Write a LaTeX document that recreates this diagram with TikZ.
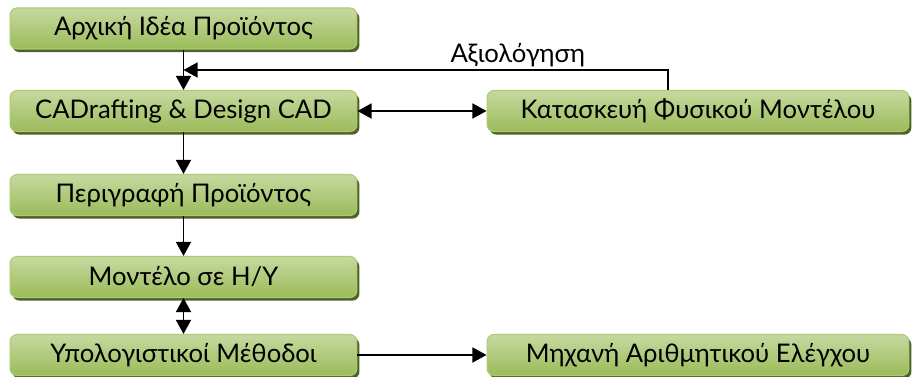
\documentclass[tikz,border=0pt]{standalone}
\usepackage{fontspec}
\setmainfont{Lato}
\usetikzlibrary{arrows.meta, shadows}
\tikzset{
    %Define standard arrow tip
    >={Triangle[length=8pt, width=8.5pt]},
}
\definecolor{boxtop}{HTML}{C6D9A0}
\definecolor{boxbottom}{HTML}{9BBB59}
\definecolor{boxline}{HTML}{AECB72}
\definecolor{boxshadow}{HTML}{4F6228}

\begin{document}
\begin{tikzpicture}[
    x=0.02cm, y=-0.02cm,
    stage/.style = {draw=boxline, line width=0.6pt, rounded corners=4pt,
                    top color=boxtop, bottom color=boxbottom,
                    drop shadow={fill=boxshadow, opacity=1,
                                 shadow xshift=1.4pt, shadow yshift=-1.8pt},
                    font=\fontsize{14.6}{17}\selectfont, inner sep=0pt,
                    minimum height=0.82cm},
    leftbox/.style  = {stage, minimum width=6.94cm},
    rightbox/.style = {stage, minimum width=8.44cm},
    flow/.style  = {line width=1.1pt},
  ]
  \useasboundingbox (0,0) rectangle (913,377);
  \node[leftbox]  (idea)  at (183.5, 28.5) {Αρχική Ιδέα Προϊόντος};
  \node[leftbox]  (cad)   at (183.5,111)   {CADrafting \& Design CAD};
  \node[leftbox]  (descr) at (183.5,195)   {Περιγραφή Προϊόντος};
  \node[leftbox]  (model) at (183.5,277)   {Μοντέλο σε Η/Υ};
  \node[leftbox]  (calc)  at (183.5,355)   {Υπολογιστικοί Μέθοδοι};
  \node[rightbox] (phys)  at (698,111)     {Κατασκευή Φυσικού Μοντέλου};
  \node[rightbox] (cnc)   at (698,355)     {Μηχανή Αριθμητικού Ελέγχου};
  \coordinate (evaltop) at (668,70);
  \draw[->,flow] (idea) -- (cad);
  \draw[->,flow] (cad) -- (descr);
  \draw[->,flow] (descr) -- (model);
  \draw[<->,flow] (model) -- (calc);
  \draw[<->,flow] (cad) -- (phys);
  \draw[->,flow] (calc) -- (cnc);
  \draw[->,flow] (phys.north -| evaltop) -- (evaltop)
    -- node[above, pos=0.31, inner sep=1pt, font=\fontsize{14.6}{17}\selectfont]
       {Αξιολόγηση} (idea.south |- evaltop);
\end{tikzpicture}
\end{document}
